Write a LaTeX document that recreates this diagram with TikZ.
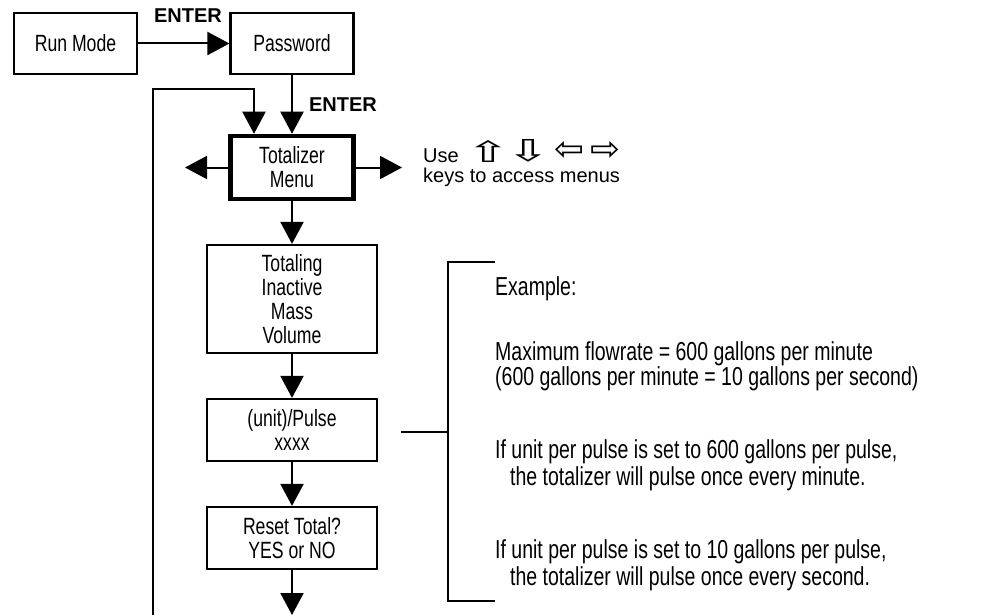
\documentclass[tikz,border=0pt]{standalone}
\usepackage{fontspec}
\setmainfont{Liberation Sans}
\newfontfamily\narrowfont[FakeStretch=0.75]{Liberation Sans}
\newfontfamily\symfont{DejaVu Sans}
\usetikzlibrary{arrows.meta}
\newcommand{\keyvert}[1]{\hbox to 24pt{\hss\resizebox{44pt}{22pt}{#1}\hss}}
\newcommand{\keyhorz}[1]{\hbox to 28pt{\hss\resizebox{30pt}{19pt}{#1}\hss}}
\begin{document}
\begin{tikzpicture}[x=1pt,y=-1pt,
  box/.style={draw, line width=2.2pt, inner sep=0pt, align=center,
    font=\narrowfont\fontsize{23.5}{24}\selectfont},
  conn/.style={line width=2pt, -{Triangle[length=22pt,width=23pt]}},
  plain/.style={line width=2pt},
  enterlbl/.style={inner sep=0pt, anchor=base, font=\bfseries\fontsize{20}{24}\selectfont},
  hint/.style={inner sep=0pt, anchor=base west, font=\fontsize{20}{24}\selectfont},
  keyglyph/.style={inner sep=0pt, font=\symfont\fontsize{24}{24}\selectfont},
  note/.style={inner sep=0pt, anchor=base west, font=\narrowfont\fontsize{26}{28}\selectfont}]
\useasboundingbox (0,0) rectangle (1008,615);

% boxes
\node[box, minimum width=123pt, minimum height=61pt] (run) at (75.5,43.5) {Run Mode};
\node[box, minimum width=123pt, minimum height=61pt] (pw) at (292,43.5) {Password};
\node[box, line width=4.5pt, minimum width=123pt, minimum height=63pt] (tot) at (292,167.5) {Totalizer\\Menu};
\node[box, minimum width=170pt, minimum height=108pt] (ting) at (292,299) {Totaling\\Inactive\\Mass\\Volume};
\node[box, minimum width=170pt, minimum height=62pt] (pulse) at (292,430) {(unit)/Pulse\\xxxx};
\node[box, minimum width=170pt, minimum height=62pt] (reset) at (292,538) {Reset Total?\\YES or NO};

% connector end points
\coordinate (loopbot) at (153,615);
\coordinate (looptop) at (153,89);
\coordinate (lefttip) at (185,167.5);
\coordinate (righttip) at (402,167.5);
\coordinate (endtip) at (292,615);

% connectors
\draw[conn] (run) -- (pw);
\draw[conn] (pw) -- (tot);
\draw[conn] (loopbot) -- (looptop) -| ([xshift=-38pt]tot.north);
\draw[conn] (tot) -- (lefttip);
\draw[conn] (tot) -- (righttip);
\draw[conn] (tot) -- (ting);
\draw[conn] (ting) -- (pulse);
\draw[conn] (pulse) -- (reset);
\draw[conn] (reset) -- (endtip);

% labels
\node[enterlbl] (enter1) at (188,23) {ENTER};
\node[enterlbl] (enter2) at (343,112) {ENTER};

\node[hint] (use) at (423,162) {Use};
\node[keyglyph] (kup) at (488,151) {\keyvert{⇧}};
\node[keyglyph] (kdown) at (528,151) {\keyvert{⇩}};
\node[keyglyph] (kleft) at (569,151) {\keyhorz{⇦}};
\node[keyglyph] (kright) at (605,151) {\keyhorz{⇨}};
\node[hint] (keys) at (423,182) {keys to access menus};

% bracket
\coordinate (bstub) at (401,432);
\coordinate (bmid) at (448,432);
\coordinate (btopR) at (495,262);
\coordinate (btopL) at (448,262);
\coordinate (bbotL) at (448,601);
\coordinate (bbotR) at (495,601);
\draw[plain] (bstub) -- (bmid);
\draw[plain] (btopR) -- (btopL) -- (bbotL) -- (bbotR);

% example text
\node[note] (ex) at (495,295) {Example:};
\node[note] (max) at (495,360) {Maximum flowrate = 600 gallons per minute};
\node[note] (conv) at (495,385) {(600 gallons per minute = 10 gallons per second)};
\node[note] (if1) at (495,458) {If unit per pulse is set to 600 gallons per pulse,};
\node[note] (th1) at (510,485) {the totalizer will pulse once every minute.};
\node[note] (if2) at (495,558) {If unit per pulse is set to 10 gallons per pulse,};
\node[note] (th2) at (510,585) {the totalizer will pulse once every second.};
\end{tikzpicture}
\end{document}
